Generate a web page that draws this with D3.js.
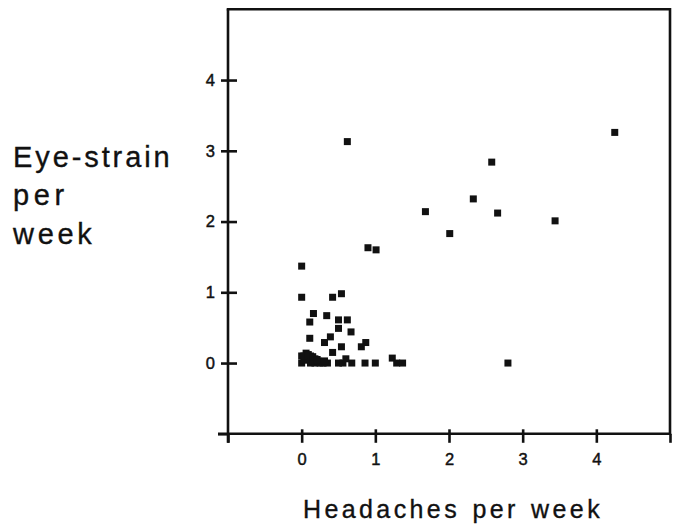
<!DOCTYPE html>
<html>
<head>
<meta charset="utf-8">
<script src="https://cdn.jsdelivr.net/npm/d3@7"></script>
<style>
  html, body { margin: 0; padding: 0; background: #fff; }
  svg { display: block; }
  text { font-family: "Liberation Sans", Arial, Helvetica, sans-serif; fill: #111; }
</style>
</head>
<body>
<svg id="chart" width="677" height="527"></svg>
<script>
// ---- data ----
const headaches = [
  0.62, 4.25, 2.58, 2.33, 1.68, 2.66, 3.44, 2.01, 0.90, 1.01, 0.00,
  0.00, 0.42, 0.54, 0.16, 0.34, 0.11, 0.50, 0.62, 0.50, 0.67, 0.11, 0.39, 0.31, 0.87, 0.81, 0.54, 0.42,
  0.35, 0.50, 0.56, 0.60, 0.68, 0.86, 1.00, 1.23, 1.29, 1.37, 2.80,
  0.00, 0.00, 0.06, 0.06, 0.12, 0.12, 0.18, 0.18, 0.25, 0.03, 0.09, 0.15, 0.22, 0.29,
  0.03, 0.09, 0.15, 0.21, 0.31
];
const eyeStrain = [
  3.13, 3.26, 2.84, 2.32, 2.14, 2.12, 2.01, 1.83, 1.63, 1.60, 1.37,
  0.93, 0.93, 0.98, 0.70, 0.67, 0.58, 0.61, 0.61, 0.49, 0.44, 0.35, 0.37, 0.29, 0.29, 0.23, 0.23, 0.15,
  0.00, 0.00, 0.00, 0.06, 0.00, 0.00, 0.00, 0.07, 0.00, 0.00, 0.00,
  0.00, 0.10, 0.14, 0.04, 0.10, 0.00, 0.06, 0.00, 0.00, 0.05, 0.06, 0.03, 0.03, 0.00,
  0.10, 0.12, 0.09, 0.05, 0.03
];
const xTicks = [-1, 0, 1, 2, 3, 4, 5];
const yTicks = [-1, 0, 1, 2, 3, 4];
const xDomain = [-1, 5];
const yDomain = [-1, 5];
const xTitle = "Headaches per week";
const yTitleLines = ["Eye-strain", "per", "week"];

// ---- layout ----
const svg = d3.select("#chart");
const pL = 228, pR = 670, pT = 9.3, pB = 433.8;
const x = d3.scaleLinear().domain(xDomain).range([pL, pR]);
const y = d3.scaleLinear().domain(yDomain).range([pB, pT]);
const ink = "#111";
const lw = 2.6;

// frame (top and right)
svg.append("path")
  .attr("d", `M${pL},${pT}H${pR}V${pB}`)
  .attr("fill", "none").attr("stroke", ink).attr("stroke-width", lw)
  .attr("stroke-linecap", "square");

// x axis
const gx = svg.append("g").attr("transform", `translate(0,${pB})`)
  .call(d3.axisBottom(x).tickValues(xTicks).tickSize(9).tickSizeOuter(0).tickPadding(10)
    .tickFormat(d => (d >= 0 && d <= 4) ? d3.format("d")(d) : ""));
gx.select(".domain").attr("stroke", ink).attr("stroke-width", lw)
  .attr("d", `M${pL - 10},0H${pR}`);
gx.selectAll(".tick line").attr("stroke", ink).attr("stroke-width", lw)
  .attr("y1", d => (d === -1 || d === 5) ? 0 : -4.5);
gx.selectAll(".tick text").attr("font-size", 16.5).attr("fill", ink)
  .attr("stroke", ink).attr("stroke-width", 0.45)
  .attr("font-family", "'Liberation Sans', Arial, sans-serif");

// y axis
const gy = svg.append("g").attr("transform", `translate(${pL},0)`)
  .call(d3.axisLeft(y).tickValues(yTicks).tickSize(7).tickSizeOuter(0).tickPadding(6)
    .tickFormat(d => (d >= 0 && d <= 4) ? d3.format("d")(d) : ""));
gy.select(".domain").attr("stroke", ink).attr("stroke-width", lw)
  .attr("d", `M0,${pT}V${pB + 9}`);
gy.selectAll(".tick line").attr("stroke", ink).attr("stroke-width", lw)
  .attr("x2", d => d === -1 ? -10 : -7)
  .attr("x1", d => d === -1 ? 0 : 9);
gy.selectAll(".tick text").attr("font-size", 16.5).attr("fill", ink)
  .attr("stroke", ink).attr("stroke-width", 0.45)
  .attr("font-family", "'Liberation Sans', Arial, sans-serif");

// points
const pts = headaches.map((h, i) => [h, eyeStrain[i]]);
const s = 7;
svg.append("g").selectAll("rect").data(pts).join("rect")
  .attr("x", d => x(d[0]) - s / 2)
  .attr("y", d => y(d[1]) - s / 2)
  .attr("width", s).attr("height", s)
  .attr("fill", ink);

// x title
svg.append("text")
  .attr("x", 303).attr("y", 518)
  .attr("font-size", 25)
  .attr("stroke", ink).attr("stroke-width", 0.35)
  .style("letter-spacing", "3.4px")
  .style("word-spacing", "2px")
  .text(xTitle);

// y title
const ySpacing = [2.9, 4.6, 3.7];
const yBase = [166.7, 205, 244];
svg.append("g").selectAll("text").data(yTitleLines).join("text")
  .attr("x", 13)
  .attr("y", (d, i) => yBase[i])
  .attr("font-size", 29)
  .attr("stroke", ink).attr("stroke-width", 0.35)
  .style("letter-spacing", (d, i) => ySpacing[i] + "px")
  .text(d => d);
</script>
</body>
</html>
